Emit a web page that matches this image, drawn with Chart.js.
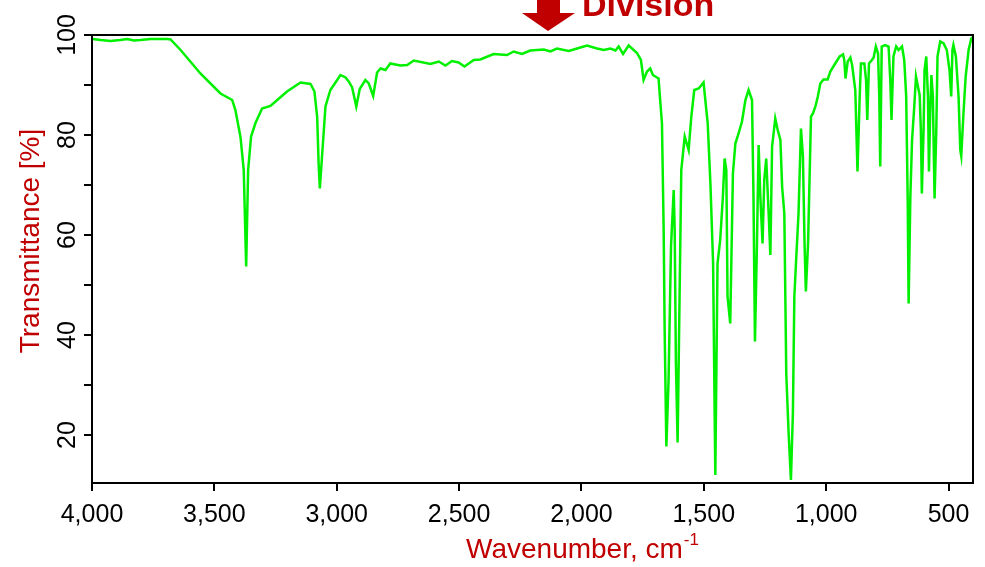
<!DOCTYPE html>
<html>
<head>
<meta charset="utf-8">
<script src="https://cdn.jsdelivr.net/npm/chart.js@4/dist/chart.umd.min.js"></script>
<style>
  html, body { margin: 0; padding: 0; background: #fff; }
  #wrap { width: 985px; height: 567px; position: relative; }
</style>
</head>
<body>
<div id="wrap"><canvas id="irChart"></canvas></div>
<script>
// IR spectrum: wavenumber (cm-1) vs transmittance (%)
const wavenumbers = [
  3998, 3965, 3924, 3884, 3856, 3829, 3802, 3761, 3693, 3679,
  3638, 3557, 3475, 3427, 3414, 3393, 3380, 3370, 3362, 3350,
  3332, 3305, 3271, 3243, 3203, 3148, 3107, 3091, 3080, 3074,
  3069, 3062, 3046, 3026, 3005, 2985, 2964, 2951, 2937, 2920,
  2906, 2883, 2869, 2851, 2835, 2821, 2801, 2781, 2740, 2712,
  2685, 2617, 2583, 2556, 2529, 2502, 2478, 2440, 2413, 2359,
  2304, 2277, 2243, 2209, 2154, 2127, 2100, 2052, 2018, 1977,
  1936, 1909, 1882, 1861, 1848, 1830, 1807, 1773, 1757, 1746,
  1732, 1719, 1708, 1685, 1671, 1664, 1660, 1653, 1644, 1634,
  1623, 1619, 1614, 1607, 1599, 1592, 1578, 1562, 1551, 1539,
  1521, 1501, 1484, 1473, 1462, 1453, 1444, 1433, 1422, 1415,
  1408, 1403, 1392, 1381, 1371, 1358, 1344, 1330, 1317, 1303,
  1297, 1291, 1283, 1276, 1269, 1260, 1253, 1245, 1235, 1228,
  1221, 1208, 1198, 1187, 1180, 1171, 1163, 1154, 1144, 1136,
  1130, 1122, 1113, 1103, 1095, 1088, 1083, 1074, 1062, 1054,
  1044, 1034, 1024, 1011, 994, 983, 963, 945, 931, 926,
  921, 912, 901, 894, 881, 872, 863, 858, 844, 837,
  832, 825, 813, 806, 797, 788, 783, 779, 773, 759,
  745, 738, 733, 725, 714, 704, 690, 681, 673, 667,
  663, 656, 649, 640, 633, 625, 618, 613, 609, 602,
  598, 591, 584, 580, 575, 570, 564, 557, 550, 545,
  534, 520, 507, 496, 489, 484, 480, 470, 459, 452,
  448, 439, 430, 418, 407, 401
];
const transmittance = [
  99.2, 99.0, 98.8, 99.0, 99.2, 98.9, 99.0, 99.2, 99.2, 99.1,
  97.0, 92.3, 88.3, 87.0, 85.0, 79.5, 73.0, 53.7, 73.0, 79.7,
  82.4, 85.3, 85.8, 87.0, 88.7, 90.5, 90.2, 88.7, 83.7, 74.3,
  69.3, 74.3, 85.7, 89.0, 90.5, 92.0, 91.5, 90.7, 89.5, 85.7,
  89.2, 91.0, 90.3, 87.8, 92.5, 93.3, 93.0, 94.3, 93.9, 94.0,
  94.9, 94.2, 94.7, 93.9, 94.8, 94.5, 93.7, 95.0, 95.1, 96.2,
  96.0, 96.7, 96.2, 96.9, 97.1, 96.7, 97.3, 96.8, 97.3, 97.9,
  97.3, 97.0, 97.3, 96.9, 97.7, 96.2, 97.9, 96.4, 95.0, 91.0,
  92.7, 93.3, 92.0, 91.3, 82.3, 61.0, 41.0, 17.7, 31.0, 57.7,
  69.0, 61.0, 34.4, 18.5, 47.7, 73.0, 79.7, 77.0, 83.7, 89.0,
  89.3, 90.5, 82.3, 70.3, 54.3, 12.0, 54.3, 59.0, 67.7, 75.3,
  73.0, 47.7, 42.3, 72.3, 78.3, 80.3, 82.7, 87.0, 89.0, 87.0,
  67.7, 38.7, 57.7, 78.0, 67.7, 58.3, 71.0, 75.3, 64.3, 56.0,
  77.7, 83.3, 81.0, 79.0, 69.7, 64.3, 32.3, 21.0, 11.0, 24.3,
  47.7, 55.7, 64.3, 81.3, 75.7, 57.7, 48.7, 58.3, 83.7, 84.3,
  85.7, 87.7, 90.3, 91.1, 91.1, 92.7, 94.3, 95.7, 96.1, 95.0,
  91.3, 94.7, 95.5, 94.0, 89.0, 72.7, 87.7, 94.3, 94.3, 91.0,
  83.0, 94.3, 95.0, 95.5, 97.7, 96.3, 87.7, 73.7, 97.7, 98.0,
  97.7, 91.0, 83.0, 95.7, 97.7, 97.0, 97.7, 95.0, 87.7, 67.7,
  46.3, 67.7, 79.0, 85.7, 91.7, 89.7, 88.0, 81.0, 68.3, 81.0,
  93.0, 95.7, 87.7, 72.7, 84.3, 92.0, 87.7, 67.3, 81.0, 95.7,
  98.7, 98.3, 97.0, 93.0, 87.7, 97.0, 98.0, 95.7, 87.7, 77.0,
  75.8, 84.3, 91.7, 97.0, 99.3, 99.5
];
const xTicks = [4000, 3500, 3000, 2500, 2000, 1500, 1000, 500];
const yTicks = [20, 30, 40, 50, 60, 70, 80, 90, 100];
const yLabelled = [20, 40, 60, 80, 100];

const RED = '#c00000';
const FONT = '"Liberation Sans", Arial, sans-serif';

// frame, axis titles and the header arrow
const decorations = {
    id: 'decorations',
    afterDraw(chart) {
        const { ctx, chartArea: a } = chart;
        ctx.save();
        ctx.strokeStyle = '#000';
        ctx.lineWidth = 2;
        ctx.strokeRect(a.left, a.top, a.right - a.left, a.bottom - a.top);

        ctx.fillStyle = RED;

        // y title
        ctx.save();
        ctx.font = '28px ' + FONT;
        ctx.translate(31, 241);
        ctx.rotate(-Math.PI / 2);
        ctx.textAlign = 'center';
        ctx.textBaseline = 'middle';
        ctx.fillText('Transmittance [%]', 0, 0);
        ctx.restore();

        // x title with superscript
        ctx.font = '28px ' + FONT;
        const main = 'Wavenumber, cm';
        const wMain = ctx.measureText(main).width;
        ctx.font = '17px ' + FONT;
        const wSup = ctx.measureText('-1').width;
        const x0 = 582 - (wMain + wSup) / 2;
        ctx.textBaseline = 'alphabetic';
        ctx.textAlign = 'left';
        ctx.font = '28px ' + FONT;
        ctx.fillText(main, x0, 558);
        ctx.font = '17px ' + FONT;
        ctx.fillText('-1', x0 + wMain + 1, 545);

        // header
        ctx.font = 'bold 34px ' + FONT;
        ctx.fillText('Division', 582, 16);
        ctx.beginPath();
        ctx.moveTo(537, 0);
        ctx.lineTo(560, 0);
        ctx.lineTo(560, 13);
        ctx.lineTo(575, 13);
        ctx.lineTo(548, 31);
        ctx.lineTo(522, 13);
        ctx.lineTo(537, 13);
        ctx.closePath();
        ctx.fill();
        ctx.restore();
    }
};

const points = wavenumbers.map((w, i) => ({ x: w, y: transmittance[i] }));

new Chart(document.getElementById('irChart'), {
    type: 'line',
    data: {
        datasets: [{
            data: points,
            borderColor: '#00f000',
            borderWidth: 2.5,
            pointRadius: 0,
            tension: 0,
            fill: false
        }]
    },
    options: {
        responsive: true,
        maintainAspectRatio: false,
        animation: false,
        events: [],
        layout: { padding: { top: 35, right: 12, left: 0, bottom: 0 } },
        plugins: {
            legend: { display: false },
            tooltip: { enabled: false }
        },
        scales: {
            x: {
                type: 'linear',
                reverse: true,
                min: 400,
                max: 4000,
                afterBuildTicks: scale => { scale.ticks = xTicks.map(v => ({ value: v })); },
                afterFit: scale => { scale.height = 84; },
                grid: { drawOnChartArea: false, color: '#000', tickLength: 8, lineWidth: 2 },
                border: { color: '#000', width: 2 },
                ticks: {
                    autoSkip: false,
                    maxRotation: 0,
                    padding: 9,
                    color: '#000',
                    font: { family: FONT, size: 25 },
                    callback: v => v.toLocaleString('en-US')
                }
            },
            y: {
                min: 10.4,
                max: 100,
                afterBuildTicks: scale => { scale.ticks = yTicks.map(v => ({ value: v })); },
                afterFit: scale => { scale.width = 92; },
                grid: { drawOnChartArea: false, color: '#000', tickLength: 8, lineWidth: 2 },
                border: { color: '#000', width: 2 },
                ticks: {
                    minRotation: 90,
                    maxRotation: 90,
                    crossAlign: 'center',
                    padding: -5,
                    color: '#000',
                    font: { family: FONT, size: 25 },
                    callback: v => yLabelled.includes(v) ? String(v) : ''
                }
            }
        }
    },
    plugins: [decorations]
});
</script>
</body>
</html>
